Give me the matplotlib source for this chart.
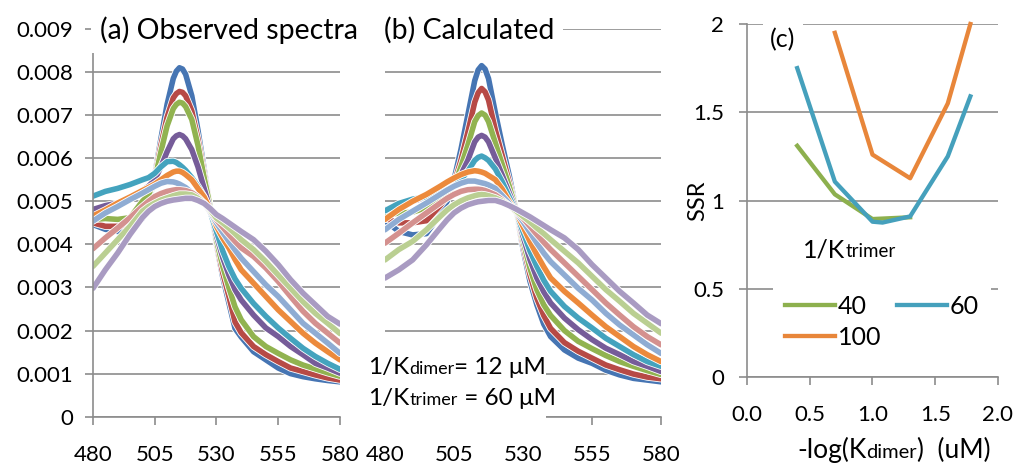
import matplotlib
matplotlib.use("Agg")
import matplotlib.pyplot as plt
import matplotlib.patheffects as pe
from matplotlib.patches import Rectangle
from matplotlib.offsetbox import TextArea, HPacker, VPacker, AnnotationBbox

plt.rcParams['font.family'] = ['Lato', 'DejaVu Sans']

# wavelength (nm), finer around the band
wavelength = [480, 485, 490, 495, 500, 502.5, 505, 507.5, 510, 512.5, 513.75, 515, 516.25,
              517.5, 520, 522.5, 525, 527.5, 530, 532.5, 535, 537.5, 540, 545, 550, 555,
              560, 565, 570, 575, 580]

# (a) observed spectra, absorbance x 0.001
obs_1 = [4.46, 4.35, 4.30, 4.30, 4.60, 4.95, 5.60, 6.45, 7.25, 7.85, 8.02, 8.10, 8.07, 7.95, 7.45, 6.65, 5.75, 4.85, 4.00, 3.25, 2.65, 2.05, 1.85, 1.51, 1.32, 1.13, 1.00, 0.93, 0.88, 0.84, 0.81]
obs_2 = [4.50, 4.42, 4.42, 4.46, 4.80, 5.10, 5.55, 6.30, 6.95, 7.40, 7.50, 7.55, 7.53, 7.45, 7.10, 6.45, 5.65, 4.85, 4.05, 3.35, 2.80, 2.20, 1.95, 1.63, 1.44, 1.28, 1.13, 1.05, 0.97, 0.90, 0.85]
obs_3 = [4.58, 4.60, 4.58, 4.62, 5.00, 5.15, 5.50, 6.15, 6.75, 7.15, 7.25, 7.30, 7.28, 7.20, 6.90, 6.30, 5.55, 4.85, 4.10, 3.50, 3.00, 2.55, 2.25, 1.86, 1.63, 1.47, 1.32, 1.20, 1.11, 1.02, 0.94]
obs_4 = [4.81, 4.90, 4.96, 5.04, 5.25, 5.35, 5.50, 5.80, 6.15, 6.45, 6.52, 6.55, 6.52, 6.45, 6.20, 5.80, 5.30, 4.80, 4.20, 3.70, 3.29, 2.95, 2.71, 2.36, 2.06, 1.86, 1.63, 1.44, 1.24, 1.13, 1.01]
obs_5 = [5.12, 5.23, 5.30, 5.39, 5.50, 5.55, 5.65, 5.80, 5.92, 5.93, 5.90, 5.85, 5.79, 5.72, 5.55, 5.35, 5.10, 4.75, 4.30, 3.85, 3.49, 3.20, 2.98, 2.63, 2.33, 2.06, 1.82, 1.59, 1.40, 1.24, 1.10]
obs_6 = [4.66, 4.80, 4.96, 5.10, 5.25, 5.32, 5.40, 5.50, 5.60, 5.68, 5.70, 5.70, 5.67, 5.62, 5.50, 5.30, 5.10, 4.80, 4.42, 4.15, 3.92, 3.65, 3.41, 3.10, 2.79, 2.48, 2.21, 1.94, 1.71, 1.51, 1.32]
obs_7 = [4.54, 4.73, 4.88, 5.04, 5.19, 5.27, 5.35, 5.42, 5.46, 5.45, 5.43, 5.40, 5.36, 5.32, 5.20, 5.08, 4.95, 4.75, 4.50, 4.28, 4.07, 3.87, 3.68, 3.37, 3.06, 2.79, 2.48, 2.17, 1.94, 1.71, 1.47]
obs_8 = [3.90, 4.15, 4.38, 4.62, 4.88, 5.00, 5.11, 5.18, 5.23, 5.26, 5.27, 5.27, 5.26, 5.25, 5.20, 5.10, 4.95, 4.78, 4.57, 4.40, 4.23, 4.07, 3.92, 3.72, 3.45, 3.14, 2.79, 2.45, 2.17, 1.94, 1.71]
obs_9 = [3.49, 3.80, 4.11, 4.42, 4.77, 4.88, 4.96, 5.03, 5.08, 5.13, 5.15, 5.17, 5.17, 5.17, 5.15, 5.07, 4.95, 4.80, 4.61, 4.50, 4.38, 4.25, 4.11, 3.88, 3.60, 3.29, 2.98, 2.67, 2.40, 2.17, 1.93]
obs_10 = [2.98, 3.41, 3.80, 4.23, 4.62, 4.77, 4.88, 4.95, 5.00, 5.03, 5.04, 5.05, 5.06, 5.07, 5.07, 5.02, 4.95, 4.83, 4.69, 4.60, 4.50, 4.40, 4.30, 4.11, 3.84, 3.53, 3.18, 2.87, 2.60, 2.33, 2.15]

# (b) calculated spectra, absorbance x 0.001
calc_1 = [4.55, 4.30, 4.22, 4.25, 4.70, 5.00, 5.50, 6.20, 7.00, 7.80, 8.05, 8.15, 8.07, 7.85, 7.05, 6.30, 5.60, 4.80, 3.90, 3.15, 2.60, 2.15, 1.86, 1.55, 1.36, 1.24, 1.08, 0.97, 0.89, 0.85, 0.81]
calc_2 = [4.60, 4.50, 4.50, 4.55, 4.90, 5.10, 5.40, 5.95, 6.60, 7.30, 7.52, 7.62, 7.54, 7.35, 6.65, 6.05, 5.45, 4.80, 4.00, 3.30, 2.75, 2.35, 2.05, 1.72, 1.52, 1.36, 1.20, 1.09, 0.99, 0.92, 0.88]
calc_3 = [4.70, 4.72, 4.75, 4.85, 5.05, 5.17, 5.35, 5.80, 6.30, 6.85, 6.99, 7.05, 7.00, 6.85, 6.35, 5.85, 5.35, 4.80, 4.10, 3.45, 2.95, 2.60, 2.35, 2.00, 1.75, 1.58, 1.42, 1.28, 1.17, 1.07, 0.98]
calc_4 = [4.80, 4.90, 5.00, 5.10, 5.20, 5.27, 5.35, 5.62, 5.95, 6.38, 6.49, 6.53, 6.49, 6.38, 6.00, 5.60, 5.20, 4.78, 4.19, 3.65, 3.22, 2.90, 2.64, 2.29, 2.02, 1.79, 1.59, 1.44, 1.28, 1.17, 1.05]
calc_5 = [4.78, 4.95, 5.05, 5.10, 5.20, 5.27, 5.35, 5.50, 5.70, 5.95, 6.02, 6.05, 6.01, 5.95, 5.75, 5.45, 5.10, 4.75, 4.30, 3.85, 3.49, 3.17, 2.91, 2.56, 2.29, 2.06, 1.82, 1.63, 1.44, 1.28, 1.17]
calc_6 = [4.58, 4.81, 5.00, 5.16, 5.35, 5.45, 5.54, 5.62, 5.68, 5.71, 5.70, 5.68, 5.65, 5.60, 5.50, 5.28, 5.00, 4.75, 4.42, 4.07, 3.76, 3.48, 3.22, 2.91, 2.64, 2.36, 2.09, 1.86, 1.63, 1.44, 1.28]
calc_7 = [4.34, 4.58, 4.77, 4.96, 5.16, 5.26, 5.35, 5.42, 5.47, 5.47, 5.45, 5.43, 5.41, 5.38, 5.30, 5.13, 4.95, 4.75, 4.53, 4.28, 4.03, 3.80, 3.60, 3.29, 2.98, 2.71, 2.40, 2.13, 1.90, 1.67, 1.47]
calc_8 = [4.03, 4.26, 4.50, 4.73, 4.96, 5.07, 5.16, 5.23, 5.27, 5.28, 5.28, 5.27, 5.25, 5.22, 5.15, 5.03, 4.90, 4.76, 4.61, 4.42, 4.23, 4.05, 3.88, 3.57, 3.26, 2.95, 2.64, 2.36, 2.09, 1.86, 1.67]
calc_9 = [3.64, 3.88, 4.07, 4.34, 4.65, 4.80, 4.92, 5.01, 5.08, 5.13, 5.15, 5.16, 5.15, 5.13, 5.08, 5.00, 4.90, 4.78, 4.65, 4.52, 4.38, 4.25, 4.11, 3.84, 3.57, 3.26, 2.95, 2.68, 2.40, 2.17, 1.94]
calc_10 = [3.22, 3.41, 3.64, 3.99, 4.38, 4.57, 4.73, 4.84, 4.92, 4.97, 4.99, 5.00, 5.01, 5.02, 5.02, 4.97, 4.90, 4.82, 4.73, 4.64, 4.54, 4.44, 4.34, 4.15, 3.88, 3.53, 3.22, 2.91, 2.64, 2.36, 2.16]

obs_series = [obs_1, obs_2, obs_3, obs_4, obs_5, obs_6, obs_7, obs_8, obs_9, obs_10]
calc_series = [calc_1, calc_2, calc_3, calc_4, calc_5, calc_6, calc_7, calc_8, calc_9, calc_10]

series_colors = ['#4675B3', '#B74A46', '#91B350', '#765C99', '#44A3BE',
                 '#EC8A3C', '#8FACD3', '#D4918F', '#BACF92', '#A99BC2']

# (c) SSR vs -log(Kdimer) for three 1/Ktrimer values
ssr_x_40 = [0.40, 0.70, 1.00, 1.30]
ssr_40 = [1.31, 1.035, 0.895, 0.905]
ssr_x_60 = [0.40, 0.70, 1.00, 1.08, 1.30, 1.60, 1.78]
ssr_60 = [1.75, 1.107, 0.88, 0.875, 0.91, 1.25, 1.59]
ssr_x_100 = [0.70, 1.00, 1.30, 1.60, 1.78]
ssr_100 = [1.95, 1.26, 1.126, 1.55, 2.00]

spec_ticks = [480, 505, 530, 555, 580]
abs_ticks = [0, 0.001, 0.002, 0.003, 0.004, 0.005, 0.006, 0.007, 0.008, 0.009]
abs_tick_labels = ['0', '0.001', '0.002', '0.003', '0.004', '0.005', '0.006', '0.007', '0.008', '0.009']
ssr_xticks = [0, 0.5, 1.0, 1.5, 2.0]
ssr_xtick_labels = ['0.0', '0.5', '1.0', '1.5', '2.0']
ssr_yticks = [0, 0.5, 1.0, 1.5, 2.0]
ssr_ytick_labels = ['0', '0.5', '1', '1.5', '2']

GRID = '#8C8C8C'
TICK_SIZE = 16


def mixed_text(ax, x, y, lines, align=(0, 0.5), sep=4):
    # lines: list of lines, each a list of (text, fontsize) pieces on one baseline
    rows = []
    for parts in lines:
        areas = [TextArea(s, textprops=dict(fontsize=fs, color='black')) for s, fs in parts]
        rows.append(HPacker(children=areas, align='baseline', pad=0, sep=0))
    if len(rows) == 1:
        box = rows[0]
    else:
        box = VPacker(children=rows, align='left', pad=0, sep=sep)
    ab = AnnotationBbox(box, (x, y), xycoords='axes fraction', box_alignment=align,
                        frameon=False, pad=0, annotation_clip=False, zorder=11)
    ax.add_artist(ab)


def style_axes(ax):
    for s in ['top', 'right']:
        ax.spines[s].set_visible(False)
    for s in ['left', 'bottom']:
        ax.spines[s].set_color(GRID)
        ax.spines[s].set_linewidth(1.2)
    ax.yaxis.grid(True, color=GRID, lw=1.2)
    ax.set_axisbelow(True)
    ax.tick_params(axis='both', direction='out', length=5.5, width=1.2, color=GRID,
                   labelsize=TICK_SIZE)


def plot_spectra(ax, series, show_y):
    for vals, c in zip(series, series_colors):
        ax.plot(wavelength, [v * 0.001 for v in vals], color=c, lw=4.0,
                solid_capstyle='round', solid_joinstyle='round',
                path_effects=[pe.Stroke(linewidth=5.2, foreground='white'), pe.Normal()])
    ax.set_xlim(480, 580)
    ax.set_ylim(0, 0.009)
    ax.set_xticks(spec_ticks)
    ax.set_xticklabels([str(t) for t in spec_ticks])
    ax.set_yticks(abs_ticks)
    style_axes(ax)
    ax.tick_params(axis='x', pad=15)
    if show_y:
        ax.set_yticklabels(abs_tick_labels)
        ax.tick_params(axis='y', pad=9)
    else:
        ax.spines['left'].set_visible(False)
        ax.tick_params(axis='y', left=False, labelleft=False)


fig = plt.figure(figsize=(10.14, 4.67), dpi=100)
ax_a = fig.add_axes([0.0917, 0.1077, 0.2436, 0.8302])
ax_b = fig.add_axes([0.3797, 0.1077, 0.2722, 0.8302])
ax_c = fig.add_axes([0.7367, 0.1927, 0.2475, 0.7559])

plot_spectra(ax_a, obs_series, True)
plot_spectra(ax_b, calc_series, False)

title_box = dict(boxstyle='square,pad=0.3', fc='white', ec='none')
ax_a.text(0.028, 0.997, '(a) Observed spectra', transform=ax_a.transAxes, fontsize=20.5,
          ha='left', va='center', bbox=title_box, zorder=10, clip_on=False)
ax_b.text(-0.005, 0.997, '(b) Calculated', transform=ax_b.transAxes, fontsize=20.5,
          ha='left', va='center', bbox=title_box, zorder=10, clip_on=False)

# white text box in (b) with the fitted constants
ax_b.add_artist(Rectangle((-0.065, -0.034), 0.648, 0.206, transform=ax_b.transAxes,
                          fc='white', ec='none', zorder=9, clip_on=False))
mixed_text(ax_b, -0.062, 0.087,
           [[('1/K', 17.5), ('dimer', 13), ('= 12 \u03bcM', 17.5)],
            [('1/K', 17.5), ('trimer', 13), (' = 60 \u03bcM', 17.5)]], sep=7.5)

# (c)
l40, = ax_c.plot(ssr_x_40, ssr_40, color='#8DB04E', lw=3.1, clip_on=False)
l60, = ax_c.plot(ssr_x_60, ssr_60, color='#45A0BC', lw=3.1, clip_on=False)
l100, = ax_c.plot(ssr_x_100, ssr_100, color='#E8863A', lw=3.1, clip_on=False)
ax_c.set_xlim(0, 2)
ax_c.set_ylim(0, 2)
ax_c.set_xticks(ssr_xticks)
ax_c.set_xticklabels(ssr_xtick_labels)
ax_c.set_yticks(ssr_yticks)
ax_c.set_yticklabels(ssr_ytick_labels)
style_axes(ax_c)
ax_c.tick_params(axis='x', pad=14.5)
ax_c.tick_params(axis='y', pad=11)

ax_c.text(0.092, 0.955, '(c)', transform=ax_c.transAxes, fontsize=18, ha='left', va='center',
          bbox=dict(boxstyle='square,pad=0.3', fc='white', ec='none'), zorder=10)
ax_c.text(-0.195, 0.5, 'SSR', transform=ax_c.transAxes, fontsize=17, rotation=90,
          ha='center', va='center')

leg = ax_c.legend([l40, l100, l60], ['40', '100', '60'], ncol=2, loc='upper left',
                  bbox_to_anchor=(0.104, 0.266), borderaxespad=0, fontsize=18, frameon=True,
                  fancybox=False, facecolor='white', edgecolor='none', framealpha=1,
                  borderpad=0.48, handlelength=2.0, handletextpad=0.1, columnspacing=0.64,
                  labelspacing=0.3)
leg.set_zorder(10)
mixed_text(ax_c, 0.223, 0.36, [[('1/K', 18), ('trimer', 13.5)]])
mixed_text(ax_c, 0.586, -0.207, [[('-log(K', 19), ('dimer', 14.5), (')  (uM)', 19)]],
           align=(0.5, 0.5))

fig.savefig('out.png', dpi=100)
